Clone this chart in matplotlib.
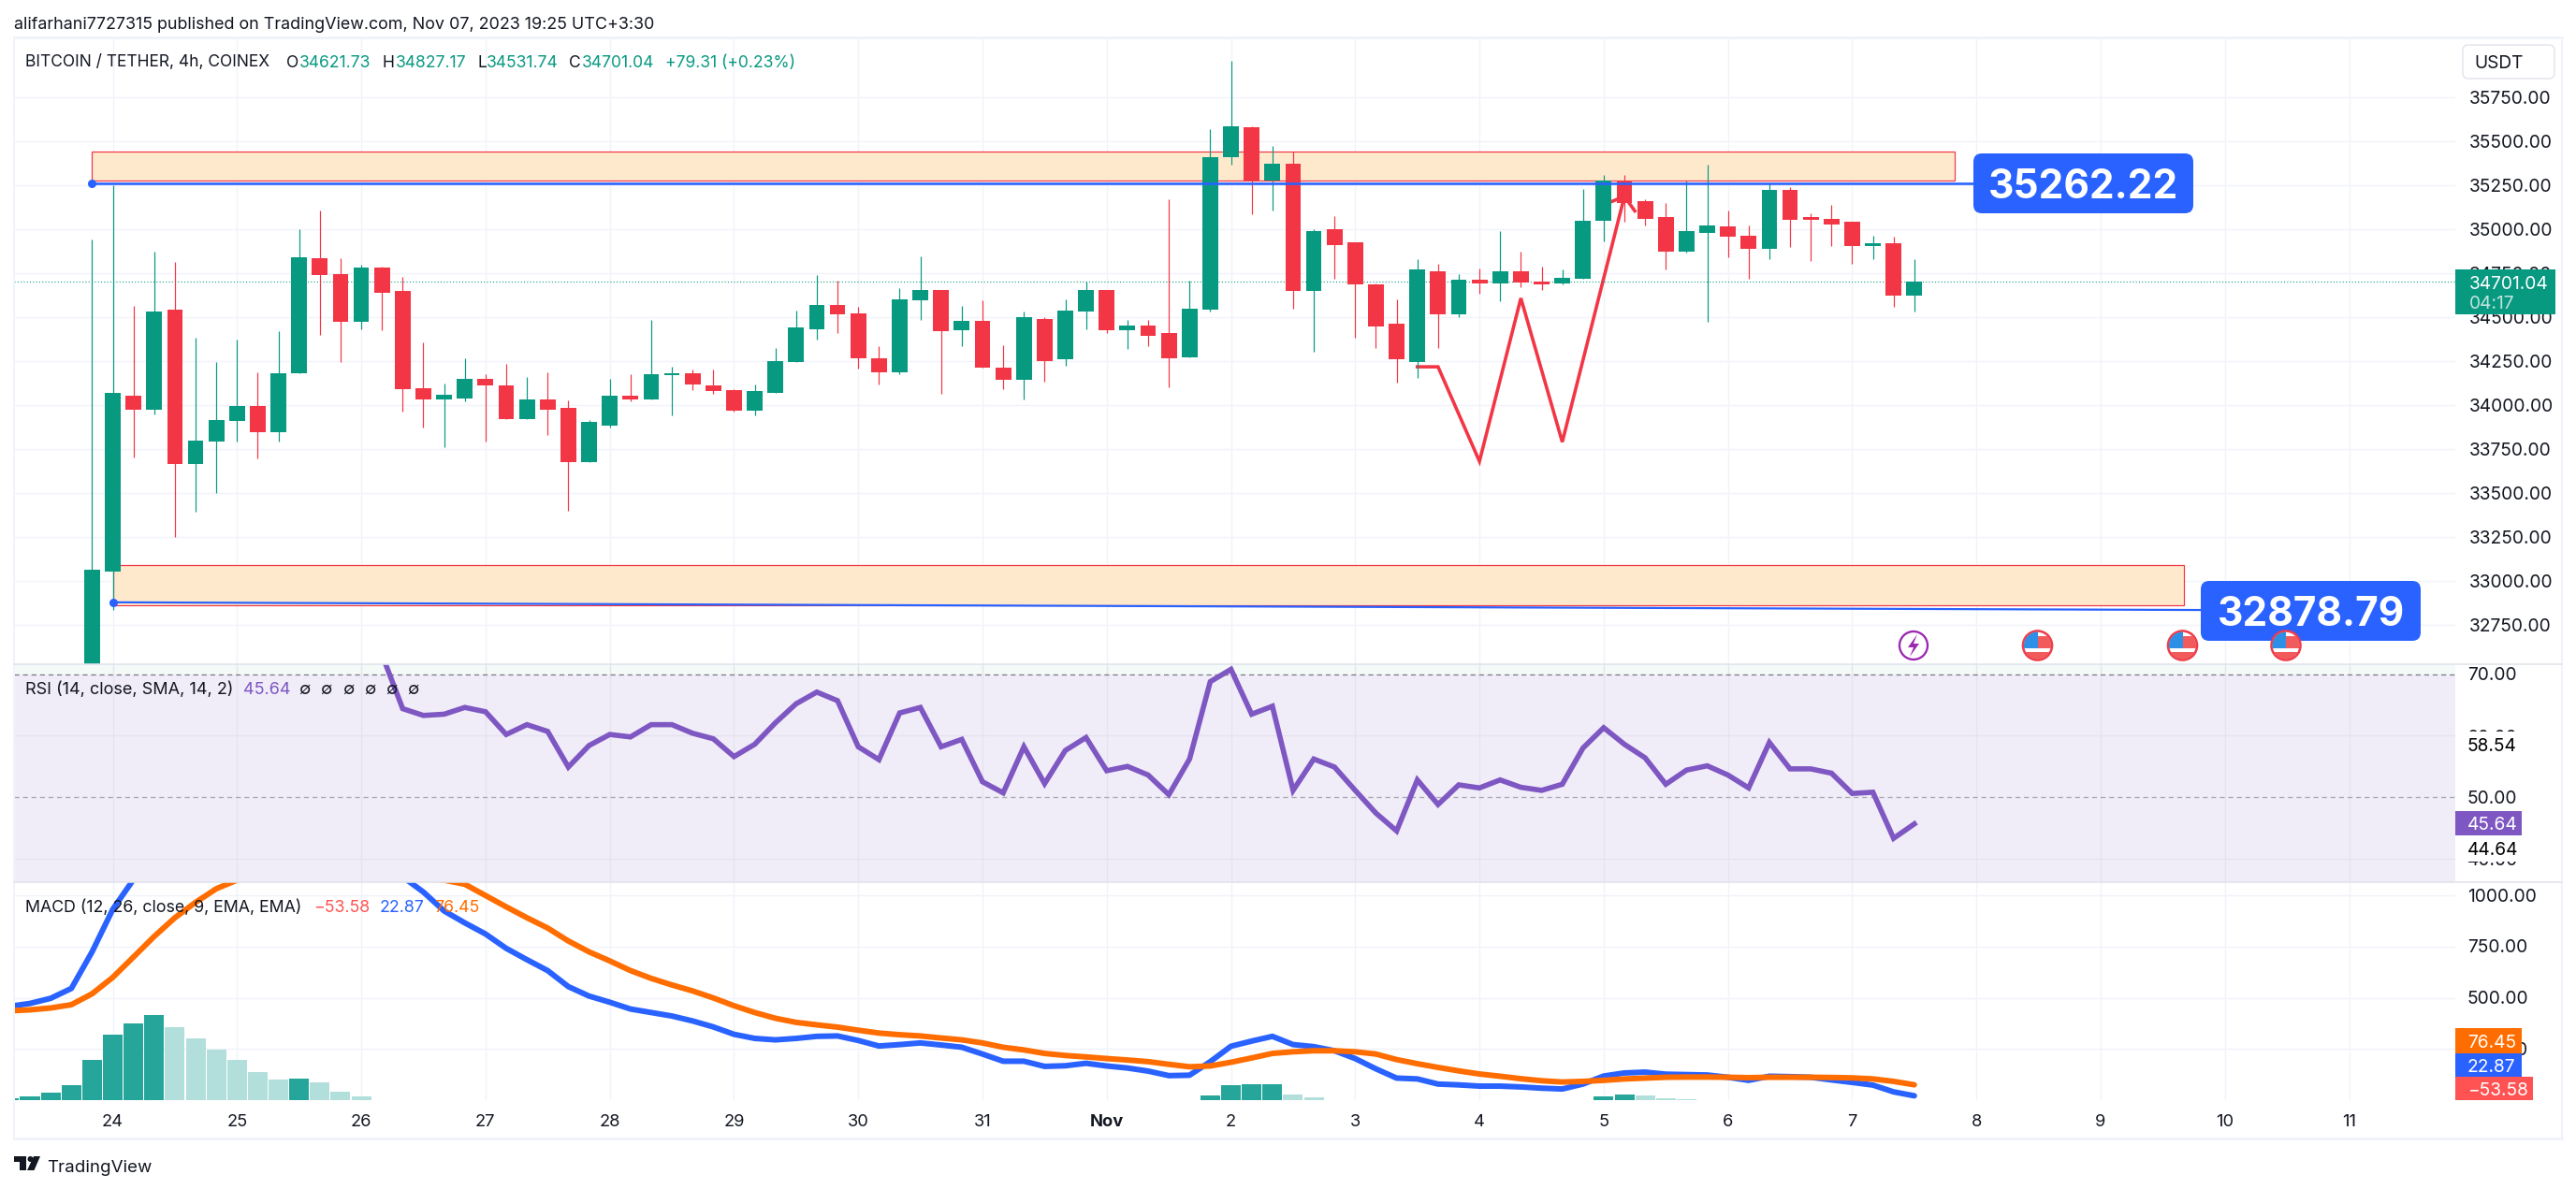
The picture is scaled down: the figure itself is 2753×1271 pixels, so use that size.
import numpy as np
import matplotlib
matplotlib.use("Agg")
import matplotlib.pyplot as plt
from matplotlib.patches import Rectangle, FancyBboxPatch, Circle, Polygon

plt.rcParams['font.family'] = ['Inter', 'DejaVu Sans']

opens = [32300,33055,34051,33975,34544,33663,33790,33907,33992,33848,34183,34832,34742,34471,34783,34647,34097,34029,34039,34151,
         34109,33921,34034,33985,33677,33885,34051,34034,34168,34183,34109,34083,33970,34070,34246,34432,34566,34522,34268,34188,
         34593,34651,34427,34476,34214,34141,34490,34258,34529,34651,34427,34449,34407,34273,34544,35406,35577,35276,35369,34647,
         35000,34927,34688,34463,34246,34761,34517,34710,34693,34761,34703,34693,34720,35049,35276,35157,35066,34874,34976,35013,
         34964,34886,35225,35066,35059,35040,34905,34922,34621.73]
highs = [34942,35250,34561,34869,34815,34380,34246,34373,34188,34417,35000,35108,34832,34798,34788,34730,34358,34124,34268,34173,
         34231,34161,34188,34024,33917,34146,34173,34485,34219,34200,34200,34092,34114,34322,34534,34737,34708,34556,34332,34666,
         34847,34651,34561,34593,34341,34529,34502,34598,34700,34656,34485,34481,35171,34708,35569,35958,35586,35474,35440,35000,
         35076,34927,34693,34598,34827,34805,34742,34778,34991,34874,34788,34773,35230,35306,35306,35171,35149,35276,35364,35103,
         35018,35257,35240,35091,35135,35044,34964,34954,34827.17]
lows = [32250,32837,33704,33948,33252,33392,33502,33794,33699,33790,34183,34400,34246,34432,34427,33965,33870,33763,34019,33794,
        33921,33921,33829,33401,33677,33870,34019,34029,33939,34083,34061,33961,33939,34070,34246,34373,34407,34205,34119,34173,
        34481,34065,34336,34210,34092,34034,34134,34224,34432,34407,34317,34332,34102,34273,34529,35364,35086,35108,34549,34305,
        34715,34380,34322,34129,34156,34322,34498,34634,34588,34671,34651,34688,34715,34932,35040,35018,34769,34864,34471,34842,
        34720,34827,34896,34820,34905,34805,34827,34556,34531.74]
closes = [33062,34070,33975,34529,33663,33799,33912,33992,33848,34183,34842,34737,34471,34783,34639,34092,34029,34056,34151,34109,
          33921,34034,33975,33677,33902,34051,34034,34173,34178,34114,34078,33970,34078,34251,34439,34566,34517,34263,34188,34598,
          34651,34417,34476,34210,34141,34498,34251,34534,34651,34427,34449,34395,34268,34549,35411,35586,35276,35369,34647,34991,
          34910,34688,34444,34258,34769,34517,34710,34693,34761,34698,34688,34725,35049,35276,35149,35059,34874,34991,35023,34959,
          34886,35225,35054,35054,35027,34905,34922,34622,34701.04]

resistance_box = (35276, 35440)
support_box = (32862, 33092)
resistance_line = (35262.22, 35262.22)
support_line = (32878.79, 32835)
pattern_x = [64, 65, 67, 69, 71, 74]
pattern_y = [34217, 34217, 33680, 34607, 33790, 35186]
pattern_stub_x = [73.4, 74, 74.5]
pattern_stub_y = [35157, 35186, 35103]

rsi_start = 14
rsi = [73.2,64.4,63.3,63.5,64.6,63.9,60.2,61.8,60.7,54.9,58.4,60.2,59.8,61.8,61.8,60.4,59.5,56.6,58.6,62.1,
       65.2,67.1,65.7,58.2,56.1,63.7,64.6,58.2,59.4,52.5,50.7,58.2,52.2,57.6,59.7,54.3,55.0,53.6,50.4,56.2,
       68.8,70.8,63.5,64.8,51.1,56.2,54.9,51.1,47.4,44.5,52.8,48.8,52.0,51.5,52.8,51.6,51.1,52.1,58.0,61.3,
       58.6,56.4,52.1,54.4,55.1,53.6,51.5,58.9,54.6,54.6,53.9,50.6,50.8,43.3,45.64]

macd_start = -4
macd = [458,472,497,545,723,930,1075,1216,1247,1268,1279,1271,1244,1233,1246,1228,1173,1135,1095,1088,
        1014,922,864,810,740,685,632,554,508,478,445,428,411,387,358,322,302,295,302,312,
        314,292,265,272,280,270,259,226,191,191,166,169,181,168,158,143,121,123,189,264,
        289,312,272,262,242,204,154,109,105,80,76,70,70,66,60,56,80,119,134,138,
        128,126,124,113,98,118,116,113,100,88,75,42,22.87]
signal = [436,441,450,466,519,599,698,798,889,964,1030,1072,1105,1130,1138,1138,1130,1113,1097,1080,
          1080,1072,1052,997,942,889,839,776,723,679,632,594,562,533,499,461,428,400,380,368,
          357,342,328,320,314,304,295,280,259,246,229,219,212,204,197,189,176,164,168,186,
          207,229,237,242,242,237,226,199,179,161,144,129,118,106,96,90,93,98,105,109,
          113,114,114,113,111,113,113,113,112,110,105,93,76.45]
hist_idx = [-4,-3,-2,-1,0,1,2,3,4,5,6,7,8,9,10,11,12,13,54,55,56,57,58,59,73,74,75,76,77,78,81]
hist_val = [13,22,40,76,199,322,377,418,358,304,249,199,139,103,108,90,43,22,25,76,80,80,30,17,22,30,25,12,7,3,3]
hist_rising = [1,1,1,1,1,1,1,1,0,0,0,0,0,0,1,0,0,0,1,1,1,1,0,0,1,1,0,0,0,0,1]

day_idx = [1,7,13,19,25,31,37,43,49,55,61,67,73,79,85,91,97,103,109]
day_labels = ['24','25','26','27','28','29','30','31','Nov','2','3','4','5','6','7','8','9','10','11']
price_ticks = [32750,33000,33250,33500,33750,34000,34250,34500,34750,35000,35250,35500,35750]
rsi_ticks = [40,50,60,70]
macd_ticks = [250,500,750,1000]

GREEN, RED, BLUE, ORANGE, PURPLE = '#089981', '#F23645', '#2962FF', '#FF6D00', '#7E57C2'
GRID, SEP, INK = '#F0F3FA', '#E0E3EB', '#131722'
W, H = 2753, 1271
L, R = 15, 2624
I0, STEP = 98.4, 22.13
xlim = ((L - I0) / STEP, (R - I0) / STEP)
px = 0.72


def pane(y0, y1, ylim):
    ax = fig.add_axes([L / W, 1 - y1 / H, (R - L) / W, (y1 - y0) / H])
    ax.set_xlim(*xlim)
    ax.set_ylim(*ylim)
    ax.axis('off')
    return ax


def grid(ax, ticks, color=GRID):
    for t in ticks:
        ax.axhline(t, color=color, lw=1.4 * px, zorder=0)
    for d in day_idx:
        ax.axvline(d, color=color, lw=1.4 * px, zorder=0)


fig = plt.figure(figsize=(W / 100, H / 100), dpi=100, facecolor='white')

# price pane
ax = pane(40, 710, (32527, 36089))
grid(ax, price_ticks)
idx = np.arange(len(opens))
for (y0, y1), x0, x1 in [(resistance_box, 0, 89.95), (support_box, 1, 101.0)]:
    ax.add_patch(Rectangle((x0, y0), x1 - x0, y1 - y0, fc='#FEE9CD', ec=RED, lw=1.2 * px, zorder=1))
ax.plot(pattern_x, pattern_y, color=RED, lw=3.6 * px, zorder=1.5, solid_joinstyle='miter')
ax.plot(pattern_stub_x, pattern_stub_y, color=RED, lw=3.6 * px, zorder=1.5)
ax.axhline(closes[-1], color=GREEN, lw=1.1 * px, ls=(0, (1, 2)), zorder=1.6)
cols = [GREEN if c >= o else RED for o, c in zip(opens, closes)]
ax.vlines(idx, lows, highs, colors=cols, lw=1.2 * px, zorder=2)
bot = [min(o, c) for o, c in zip(opens, closes)]
hgt = [abs(o - c) for o, c in zip(opens, closes)]
ax.bar(idx, hgt, bottom=bot, width=0.76, color=cols, lw=0, zorder=3)
ax.plot([0, 90.85], resistance_line, color=BLUE, lw=2.6 * px, zorder=4)
ax.plot([1, 101.83], support_line, color=BLUE, lw=2.2 * px, zorder=4)
ax.plot([0], resistance_line[:1], 'o', color=BLUE, ms=5.5, zorder=5)
ax.plot([1], support_line[:1], 'o', color=BLUE, ms=5.5, zorder=5)

# RSI pane
ax2 = pane(710, 943, (36.16, 71.64))
ax2.axhspan(70, 71.64, color='#F4FAF7', lw=0, zorder=0)
ax2.axhspan(36.16, 70, color='#F0ECF8', lw=0, zorder=0)
grid(ax2, [40, 60], color='#E6E3F0')
ax2.axhline(70, color='#787B86', lw=1.3 * px, ls=(0, (4, 3)), zorder=1)
ax2.axhline(50, color='#A8A9B3', lw=1.3 * px, ls=(0, (4, 3)), zorder=1)
ax2.plot(np.arange(len(rsi)) + rsi_start, rsi, color=PURPLE, lw=5.6 * px, zorder=3, solid_joinstyle='miter')

# MACD pane
ax3 = pane(943, 1176.4, (0, 1062))
grid(ax3, macd_ticks)
ax3.bar(hist_idx, hist_val, width=0.95, lw=0, zorder=1,
        color=['#26A69A' if r else '#B2DFDB' for r in hist_rising])
mx = np.arange(len(macd)) + macd_start
ax3.plot(mx, macd, color=BLUE, lw=6 * px, zorder=2, solid_capstyle='round')
ax3.plot(mx, signal, color=ORANGE, lw=6 * px, zorder=3, solid_capstyle='round')

# overlay in pixel coordinates
ov = fig.add_axes([0, 0, 1, 1], zorder=20)
ov.set_xlim(0, W)
ov.set_ylim(H, 0)
ov.axis('off')
ov.patch.set_alpha(0)

AXIS = 13.8


def T(x, y, s, color=INK, size=AXIS, ha='left', weight='normal', z=5, **kw):
    dy = size * 0.16
    return ov.text(x, y + dy, s, color=color, fontsize=size, ha=ha, va='center', weight=weight, zorder=z, **kw)


def R_(x0, y0, x1, y1, fc, z=4):
    ov.add_patch(Rectangle((x0, y0), x1 - x0, y1 - y0, fc=fc, ec='none', zorder=z))


# frame
for xs, ys, c, lw in [((L, 2738), (40, 40), GRID, 3), ((L, 2738), (1217, 1217), GRID, 3),
                      ((L, L), (40, 1217), GRID, 2), ((2738, 2738), (40, 1217), GRID, 2),
                      ((L, 2738), (710, 710), SEP, 1.6), ((L, 2738), (943, 943), SEP, 1.6)]:
    ov.plot(xs, ys, color=c, lw=lw * px, zorder=1)

# header and legends
T(15, 24, 'alifarhani7727315 published on TradingView.com, Nov 07, 2023 19:25 UTC+3:30', size=12.9)
T(27, 65, 'BITCOIN / TETHER, 4h, COINEX', size=12.5)
for x, s, c in [(306, 'O', INK), (320, '34621.73', GREEN), (409, 'H', INK), (423, '34827.17', GREEN),
                (510, 'L', INK), (520, '34531.74', GREEN), (608, 'C', INK), (622, '34701.04', GREEN),
                (711, '+79.31 (+0.23%)', GREEN)]:
    T(x, 65, s, color=c, size=12.6)
T(27, 735, 'RSI (14, close, SMA, 14, 2)', size=13)
T(260, 735, '45.64', color=PURPLE, size=13)
for x in [325, 348, 372, 395, 418, 441]:
    T(x, 735, '∅', size=13, ha='center')
T(27, 968, 'MACD (12, 26, close, 9, EMA, EMA)', size=12.8)
T(335, 968, '−53.58', color='#FF5252', size=12.8)
T(406, 968, '22.87', color=BLUE, size=12.8)
T(464, 968, '76.45', color=ORANGE, size=12.8)

# price scale
for p in price_ticks:
    T(2639, H - ax.transData.transform((0, p))[1], f'{p:.2f}')
R_(2624, 288, 2731, 336, GREEN, z=6)
T(2639, 302, '34701.04', color='white', z=7)
T(2639, 323, '04:17', color='#BFE4DD', z=7)
ov.add_patch(FancyBboxPatch((2632, 48), 98, 36, boxstyle='round,pad=0,rounding_size=6', fc='white', ec=SEP, lw=1.4 * px, zorder=4))
T(2644, 66, 'USDT')

# RSI scale
for v, y in [(70, 720), (60, 786.3), (50, 851.7), (40, 918)]:
    T(2637, y, f'{v:.2f}')
R_(2624, 782, 2734, 811, 'white', z=6)
R_(2624, 895, 2734, 921, 'white', z=6)
T(2637, 796, '58.54', color='#000000', z=7)
T(2637, 907, '44.64', color='#000000', z=7)
R_(2624, 867, 2695, 893, PURPLE, z=6)
T(2637, 880, '45.64', color='white', z=7)

# MACD scale
for v, y in [(1000, 956.5), (750, 1011), (500, 1066), (250, 1121)]:
    T(2637, y, f'{v:.2f}')
for x1, y0, y1, c, s in [(2695, 1099, 1126, ORANGE, '76.45'), (2695, 1126, 1151, BLUE, '22.87'),
                         (2707, 1151, 1176, '#FF5252', '−53.58')]:
    R_(2624, y0, x1, y1, c, z=6)
    T(2637, (y0 + y1) / 2, s, color='white', z=7)

# time labels
for d, s in zip(day_idx, day_labels):
    T(I0 + STEP * d, 1197, s, ha='center', size=13.2, weight='bold' if s == 'Nov' else 'normal')

# big price labels
for x0, y0, x1, y1, s in [(2109, 164, 2344, 228, '35262.22'), (2352, 621, 2587, 685, '32878.79')]:
    ov.add_patch(FancyBboxPatch((x0, y0), x1 - x0, y1 - y0, boxstyle='round,pad=0,rounding_size=9', fc=BLUE, ec='none', zorder=8))
    T((x0 + x1) / 2, (y0 + y1) / 2, s, color='white', size=30.5, ha='center', weight='bold', z=9)

# event icons
c = Circle((2045, 690), 15, fc='white', ec='#9C27B0', lw=2.3 * px, zorder=10)
ov.add_patch(c)
ov.add_patch(Polygon([(2049, 678), (2039, 692), (2045, 692), (2041, 702), (2051, 688), (2045, 688)], fc='#9C27B0', ec='none', zorder=11))
for x in [2177.5, 2332.5, 2443]:
    ring = Circle((x, 690), 15.5, fc='white', ec='#EE3E4C', lw=2.6 * px, zorder=10)
    ov.add_patch(ring)
    inner = Circle((x, 690), 14.5, transform=ov.transData)
    for rect in [Rectangle((x - 16, 680), 32, 6.5, fc='#F15B5B', ec='none', zorder=11),
                 Rectangle((x, 686.5), 16, 6.5, fc='#F15B5B', ec='none', zorder=11),
                 Rectangle((x - 16, 697), 32, 10, fc='#F15B5B', ec='none', zorder=11),
                 Rectangle((x - 16, 674), 16, 19, fc='#2E8FE6', ec='none', zorder=12)]:
        ov.add_patch(rect)
        rect.set_clip_path(inner)

# footer logo
for pts in [[(15, 1236), (28, 1236), (28, 1251), (21, 1251), (21, 1242), (15, 1242)],
            [(36, 1236), (43, 1236), (36.5, 1251), (29, 1251)]]:
    ov.add_patch(Polygon(pts, fc=INK, ec='none', zorder=5))
ov.add_patch(Circle((32.5, 1239), 3, fc=INK, ec='none', zorder=5))
T(50, 1246, 'TradingView', size=13.5)

fig.savefig('out.png', dpi=100)
